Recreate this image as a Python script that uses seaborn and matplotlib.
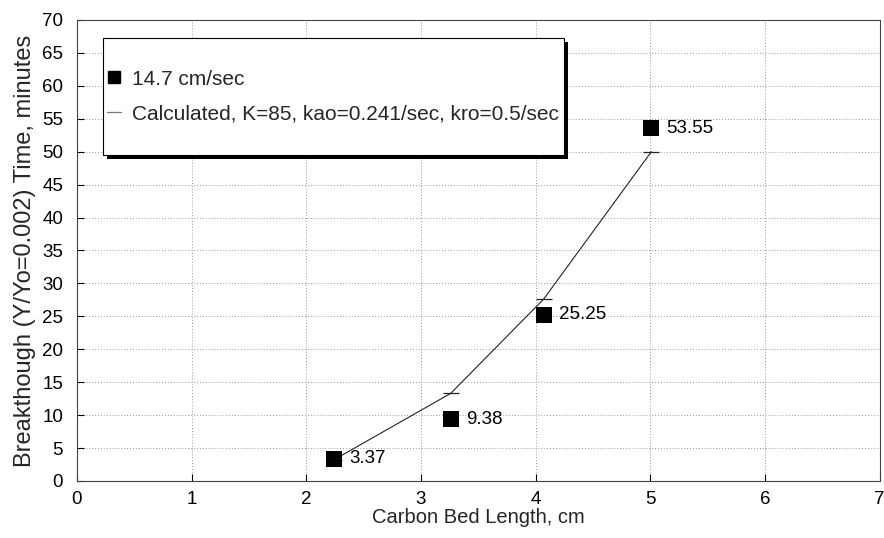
import matplotlib

matplotlib.use("Agg")
import matplotlib.pyplot as plt
import pandas as pd
import seaborn as sns
from matplotlib.lines import Line2D
from matplotlib.patches import Rectangle

# measured breakthrough times at 14.7 cm/sec
bed_len = [2.24, 3.26, 4.07, 5.01]
breakthrough = [3.37, 9.38, 25.25, 53.55]
point_labels = ["3.37", "9.38", "25.25", "53.55"]

# calculated curve
calc_len = [2.24, 3.26, 4.07, 5.01]
calc_time = [3.2, 13.3, 27.6, 50.0]

meas = pd.DataFrame({"x": bed_len, "y": breakthrough})
calc = pd.DataFrame({"x": calc_len, "y": calc_time})

sns.set_theme(style="white")
plt.rcParams["font.family"] = ["Liberation Sans", "DejaVu Sans"]

fig, ax = plt.subplots(figsize=(8.84, 5.38), dpi=100)
fig.subplots_adjust(left=0.087, right=0.995, bottom=0.106, top=0.963)

sns.lineplot(data=calc, x="x", y="y", ax=ax, color="#222222", lw=0.8,
             marker="_", markersize=12, markeredgewidth=0.9,
             markeredgecolor="#222222", legend=False, zorder=2)
sns.scatterplot(data=meas, x="x", y="y", ax=ax, marker="s", s=130,
                color="black", edgecolor="black", linewidth=0,
                legend=False, zorder=3)

for x, y, t in zip(bed_len, breakthrough, point_labels):
    ax.annotate(t, (x, y), xytext=(11, 0), textcoords="offset points",
                va="center", ha="left", fontsize=13.5, color="black")

ax.set_xlim(0, 7)
ax.set_ylim(0, 70)
ax.set_xticks(range(0, 8))
ax.set_yticks(range(0, 71, 5))
ax.grid(True, color="#999999", ls=(0, (1, 2)), lw=0.7)
for s in ax.spines.values():
    s.set_color("#444444")
    s.set_linewidth(0.8)
ax.tick_params(labelsize=13.5, colors="black", length=5, width=0.8,
               direction="in", bottom=True, left=True, pad=7)
ax.tick_params(axis="y", pad=10)
ax.set_xlabel("Carbon Bed Length, cm", fontsize=14.5, labelpad=0)
ax.set_ylabel("Breakthough (Y/Yo=0.002) Time, minutes", fontsize=17, labelpad=4)

# legend box with a solid drop shadow
box = dict(xy=(0.0324, 0.707), width=0.575, height=0.254, transform=ax.transAxes)
ax.add_patch(Rectangle((box["xy"][0] + 0.005, box["xy"][1] - 0.009), box["width"],
                       box["height"], transform=ax.transAxes, facecolor="black",
                       edgecolor="none", zorder=5))
ax.add_patch(Rectangle(box["xy"], box["width"], box["height"], transform=ax.transAxes,
                       facecolor="white", edgecolor="black", lw=0.8, zorder=6))

handles = [
    Line2D([], [], ls="none", marker="s", markersize=9, color="black"),
    Line2D([], [], color="#777777", lw=0.9),
]
labels = ["14.7 cm/sec", "Calculated, K=85, kao=0.241/sec, kro=0.5/sec"]
leg = ax.legend(handles, labels, loc="upper left", bbox_to_anchor=(0.037, 0.892),
                frameon=False, fontsize=15, borderpad=0, borderaxespad=0,
                handlelength=0.7, handletextpad=0.5, labelspacing=0.75)
leg.set_zorder(7)

plt.savefig("out.png", dpi=100)
